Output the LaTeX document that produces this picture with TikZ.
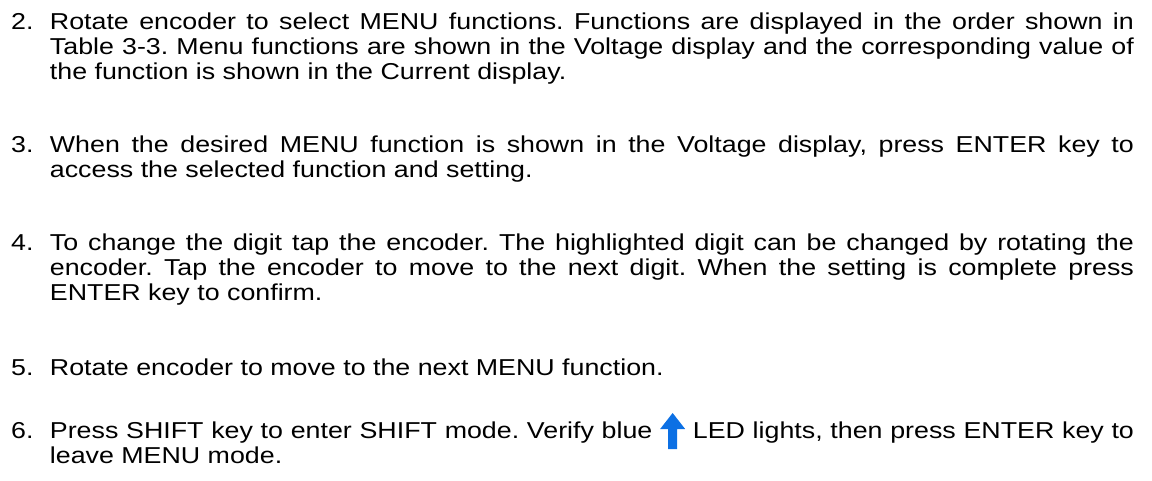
\documentclass[tikz,border=0pt]{standalone}
\usepackage{fontspec}
\setmainfont[FakeStretch=1.165]{Liberation Sans}
\usetikzlibrary{positioning}
\definecolor{ledblue}{RGB}{12,112,228}
\newcommand{\stepfont}{\fontsize{23bp}{25bp}\selectfont\frenchspacing}
\newcommand{\ledarrow}{\tikz[baseline=0pt,x=1bp,y=1bp]{
  \useasboundingbox (-12.5,0) rectangle (12.5,12);
  \fill[ledblue] (-4.5,-11) -- (4.5,-11) -- (4.5,9) -- (12.5,9) -- (0,25)
    -- (-12.5,9) -- (-4.5,9) -- cycle;}}

\begin{document}
\begin{tikzpicture}[x=1bp, y=-1bp,
  num/.style={anchor=base west, inner sep=0pt, font=\stepfont},
  item/.style={inner sep=0pt, text width=1084bp, align=justify,
               font=\stepfont}
]
\useasboundingbox (0,0) rectangle (1152,481);
\node[num] (n2) at (11,30) {2.};
\node[item, base right=16bp of n2] (t2) {Rotate encoder to select MENU
  functions. Functions are displayed in the order shown in\linebreak
  Table 3-3. Menu functions are shown in the Voltage display and the
  corresponding value of\linebreak
  the function is shown in the Current display.};
\node[num] (n3) at (11,153) {3.};
\node[item, base right=16bp of n3] (t3) {When the desired MENU function
  is shown in the Voltage display, press ENTER key to\linebreak
  access the selected function and setting.};
\node[num] (n4) at (11,251) {4.};
\node[item, base right=16bp of n4] (t4) {To change the digit tap the
  encoder. The highlighted digit can be changed by rotating the\linebreak
  encoder. Tap the encoder to move to the next digit. When the setting
  is complete press\linebreak
  ENTER key to confirm.};
\node[num] (n5) at (11,376) {5.};
\node[item, base right=16bp of n5] (t5) {Rotate encoder to move to the
  next MENU function.};
\node[num] (n6) at (11,438) {6.};
\node[item, base right=16bp of n6] (t6) {Press SHIFT key to enter
  SHIFT mode. Verify blue \ledarrow{} LED lights, then press ENTER key
  to\linebreak
  leave MENU mode.};
\end{tikzpicture}
\end{document}
